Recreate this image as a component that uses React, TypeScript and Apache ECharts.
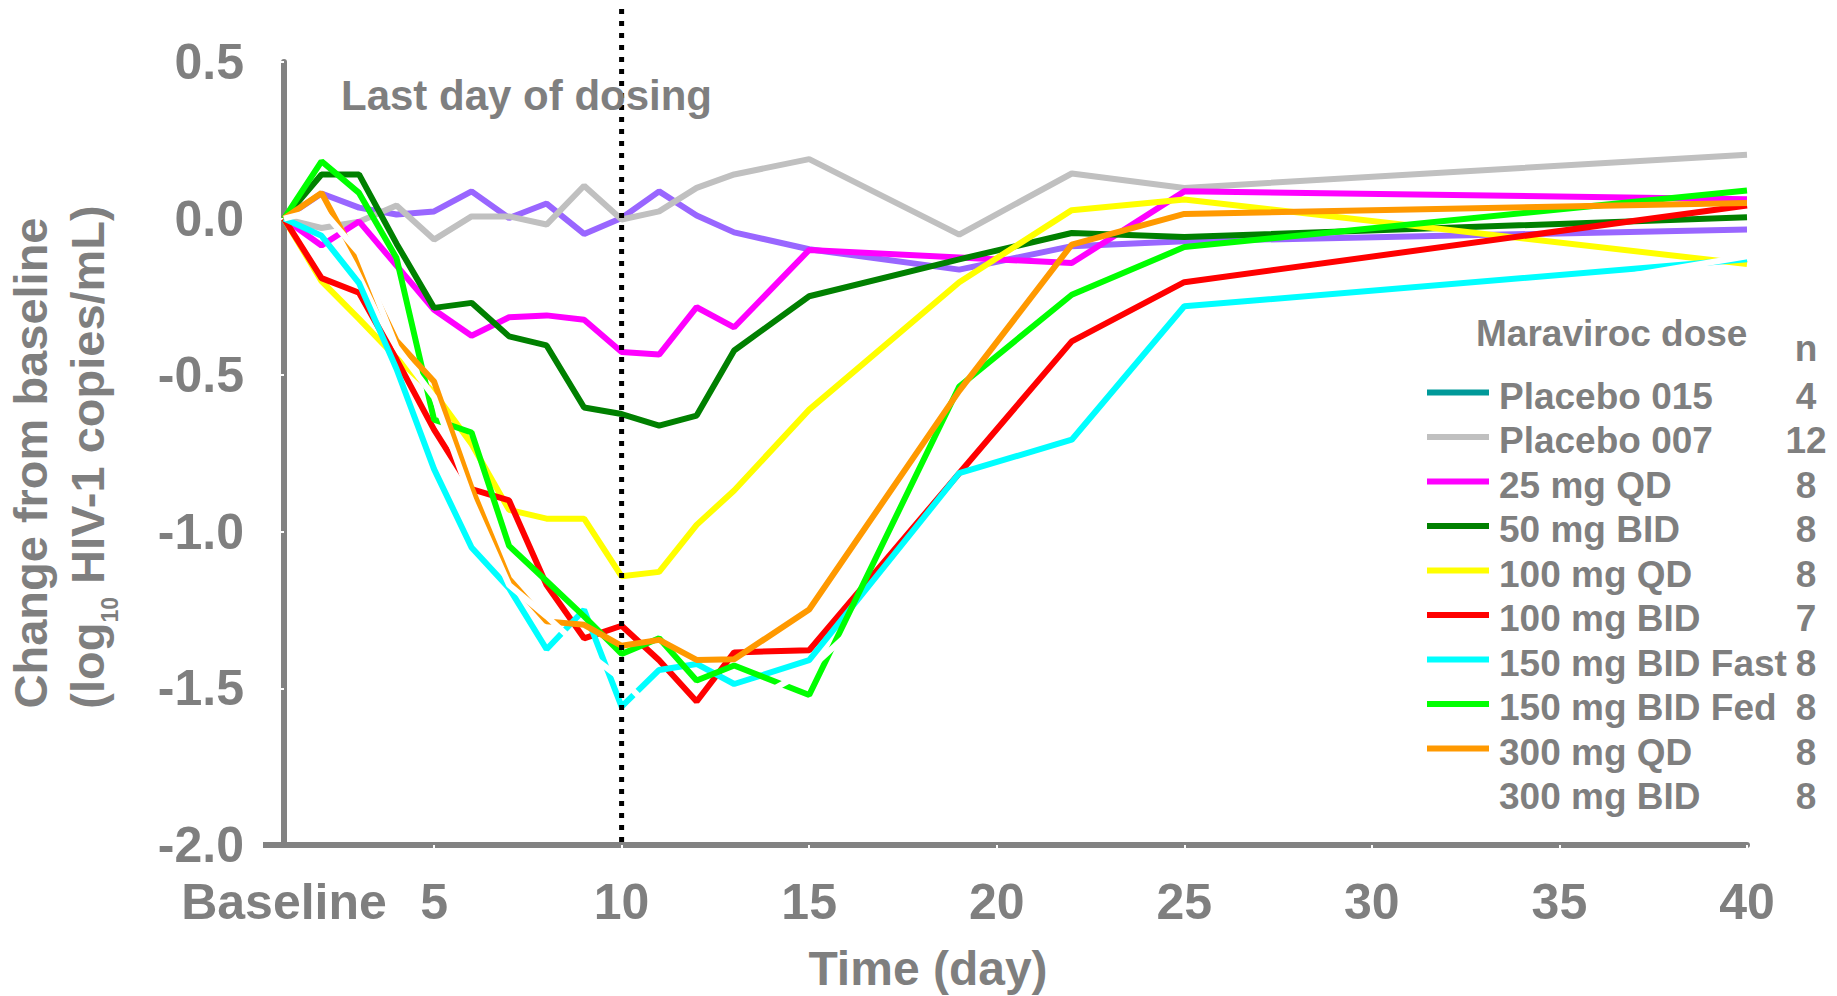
import React, { useEffect, useRef } from "react";
import * as echarts from "echarts";

// ---- data ----
const days = [1, 2, 3, 4, 5, 6, 7, 8, 9, 10, 11, 12, 13, 15, 19, 22, 25, 40];

const placebo015 = [0, 0.08, 0.035, 0.013, 0.023, 0.087, 0.002, 0.048, -0.049, 0.002, 0.087, 0.01, -0.044, -0.098, -0.163, -0.088, -0.072, -0.035];
const placebo007 = [0, -0.03, -0.01, 0.042, -0.067, 0.007, 0.007, -0.019, 0.105, -0.003, 0.023, 0.098, 0.141, 0.19, -0.051, 0.144, 0.098, 0.204];
const mg25QD = [0, -0.086, -0.009, -0.15, -0.291, -0.374, -0.315, -0.309, -0.323, -0.426, -0.434, -0.283, -0.347, -0.1, -0.124, -0.142, 0.087, 0.062];
const mg50BID = [0, 0.141, 0.141, -0.08, -0.285, -0.269, -0.376, -0.405, -0.603, -0.624, -0.661, -0.629, -0.421, -0.248, -0.13, -0.046, -0.059, 0.004];
const mg100QD = [0, -0.2, -0.32, -0.445, -0.555, -0.72, -0.93, -0.958, -0.958, -1.142, -1.128, -0.978, -0.868, -0.61, -0.203, 0.027, 0.061, -0.145];
const mg100BID = [0, -0.19, -0.237, -0.45, -0.674, -0.864, -0.9, -1.17, -1.34, -1.3, -1.41, -1.542, -1.385, -1.378, -0.813, -0.392, -0.203, 0.042];
const mg150Fast = [0, -0.055, -0.206, -0.48, -0.8, -1.05, -1.18, -1.375, -1.249, -1.558, -1.441, -1.422, -1.486, -1.41, -0.813, -0.706, -0.28, -0.13];
const mg150Fed = [0, 0.183, 0.082, -0.126, -0.642, -0.683, -1.045, -1.157, -1.27, -1.39, -1.34, -1.475, -1.427, -1.521, -0.536, -0.243, -0.091, 0.09];
const mg300QD = [0, 0.082, -0.14, -0.39, -0.52, -0.86, -1.151, -1.286, -1.297, -1.364, -1.345, -1.409, -1.407, -1.248, -0.55, -0.083, 0.015, 0.05];
const mg300BID = [0, 0.03, -0.11, -0.41, -0.57, -0.9, -1.17, -1.27, -1.38, -1.47, -1.59, -1.6, -1.57, -1.44, -1.0, -0.74, -0.42, -0.12];

const seriesValues = [placebo015, placebo007, mg25QD, mg50BID, mg100QD, mg100BID, mg150Fast, mg150Fed, mg300QD, mg300BID];
const seriesNames = ["Placebo 015", "Placebo 007", "25 mg QD", "50 mg BID", "100 mg QD", "100 mg BID", "150 mg BID Fast", "150 mg BID Fed", "300 mg QD", "300 mg BID"];
const lineColors = ["#9966FF", "#C0C0C0", "#FF00FF", "#008000", "#FFFF00", "#FF0000", "#00FFFF", "#00FF00", "#FF9900", "#FFFFFF"];

const legendTitle = "Maraviroc dose";
const legendNHeader = "n";
const legendLabels = ["Placebo 015", "Placebo 007", "25 mg QD", "50 mg BID", "100 mg QD", "100 mg BID", "150 mg BID Fast", "150 mg BID Fed", "300 mg QD", "300 mg BID"];
const legendN = ["4", "12", "8", "8", "8", "7", "8", "8", "8", "8"];
const legendSwatchColors = ["#009999", "#C0C0C0", "#FF00FF", "#008000", "#FFFF00", "#FF0000", "#00FFFF", "#00FF00", "#FF9900", "#FFFFFF"];

const xLabelValues = [1, 5, 10, 15, 20, 25, 30, 35, 40];
const xTickValues = [5, 10, 15, 20, 25, 30, 35, 40];
const baselineLabel = "Baseline";
const lastDosingDay = 10;
const lastDosingText = "Last day of dosing";
const xTitle = "Time (day)";
const yTitle1 = "Change from baseline";

const FONT = '"Liberation Sans", Arial, Helvetica, sans-serif';
const GRAY = "#7f7f7f";
const AXIS_GRAY = "#828282";

export default function App() {
  const ref = useRef<HTMLDivElement>(null);

  useEffect(() => {
    document.body.style.margin = "0";
    const chart = echarts.init(ref.current as HTMLDivElement, undefined, { renderer: "svg" });

    const option: any = {
      animation: false,
      backgroundColor: "#ffffff",
      grid: { left: 284, right: 90, top: 62, bottom: 151, containLabel: false, outerBoundsMode: "none" },
      xAxis: {
        type: "value",
        min: 1,
        max: 40,
        axisLine: { show: true, onZero: false, lineStyle: { color: AXIS_GRAY, width: 6 } },
        axisTick: { show: true, customValues: xTickValues, length: 4, lineStyle: { color: "#ffffff", width: 2 } },
        axisLabel: {
          customValues: xLabelValues,
          showMinLabel: true,
          showMaxLabel: true,
          formatter: (v: number) => (v === 1 ? baselineLabel : String(v)),
          color: GRAY,
          fontSize: 50,
          fontWeight: "bold",
          fontFamily: FONT,
          margin: 32,
        },
        splitLine: { show: false },
      },
      yAxis: {
        type: "value",
        min: -2,
        max: 0.5,
        interval: 0.5,
        axisLine: { show: true, onZero: false, lineStyle: { color: AXIS_GRAY, width: 6 } },
        axisTick: { show: true, length: 4, lineStyle: { color: "#ffffff", width: 2 } },
        axisLabel: {
          formatter: (v: number) => v.toFixed(1),
          color: GRAY,
          fontSize: 50,
          fontWeight: "bold",
          fontFamily: FONT,
          margin: 40,
        },
        splitLine: { show: false },
      },
      series: seriesValues.map((vals, i) => ({
        name: seriesNames[i],
        type: "line",
        data: days.map((d, j) => [d, vals[j]]),
        showSymbol: false,
        symbol: "none",
        silent: true,
        lineStyle: { color: lineColors[i], width: 6 },
        itemStyle: { color: lineColors[i] },
        z: 2,
      })),
    };
    chart.setOption(option);

    const [x10] = chart.convertToPixel({ gridIndex: 0 }, [lastDosingDay, 0]) as number[];
    const [x1, yBottom] = chart.convertToPixel({ gridIndex: 0 }, [1, -2]) as number[];

    const graphics: any[] = [];
    // x-axis stub extending left of the y axis
    graphics.push({
      type: "line",
      z: 50,
      shape: { x1: x1 - 21, y1: yBottom, x2: x1 + 3, y2: yBottom },
      style: { stroke: AXIS_GRAY, lineWidth: 6 },
    });
    // dotted "last day of dosing" line
    graphics.push({
      type: "line",
      z: 100,
      shape: { x1: x10, y1: 9, x2: x10, y2: yBottom },
      style: { stroke: "#000000", lineWidth: 5, lineDash: [5, 7] },
    });
    graphics.push({
      type: "text",
      z: 110,
      x: 341,
      y: 95,
      style: { text: lastDosingText, fill: GRAY, fontSize: 42, fontWeight: "bold", fontFamily: FONT, align: "left", verticalAlign: "middle" },
    });
    // x-axis title
    graphics.push({
      type: "text",
      z: 110,
      x: 928,
      y: 968,
      style: { text: xTitle, fill: GRAY, fontSize: 48, fontWeight: "bold", fontFamily: FONT, align: "center", verticalAlign: "middle" },
    });
    // y-axis title
    graphics.push({
      type: "text",
      z: 110,
      x: 30,
      y: 463,
      rotation: Math.PI / 2,
      style: { text: yTitle1, fill: GRAY, fontSize: 47, fontWeight: "bold", fontFamily: FONT, align: "center", verticalAlign: "middle" },
    });
    graphics.push({
      type: "text",
      z: 110,
      x: 110,
      y: 457,
      rotation: Math.PI / 2,
      style: {
        text: "{m|(log}{s|10}{m| HIV-1 copies/mL)}",
        fill: GRAY,
        fontSize: 47,
        fontWeight: "bold",
        fontFamily: FONT,
        align: "center",
        verticalAlign: "middle",
        rich: {
          m: { fill: GRAY, fontSize: 47, fontWeight: "bold", fontFamily: FONT, lineHeight: 47, verticalAlign: "top" },
          s: { fill: GRAY, fontSize: 23, fontWeight: "bold", fontFamily: FONT, lineHeight: 92, verticalAlign: "middle" },
        },
      },
    });
    // legend
    graphics.push({
      type: "text",
      z: 110,
      x: 1476,
      y: 333,
      style: { text: legendTitle, fill: GRAY, fontSize: 37, fontWeight: "bold", fontFamily: FONT, align: "left", verticalAlign: "middle" },
    });
    graphics.push({
      type: "text",
      z: 110,
      x: 1806,
      y: 348,
      style: { text: legendNHeader, fill: GRAY, fontSize: 37, fontWeight: "bold", fontFamily: FONT, align: "center", verticalAlign: "middle" },
    });
    legendLabels.forEach((lab, i) => {
      const cy = 396 + i * 44.5;
      graphics.push({
        type: "line",
        z: 110,
        shape: { x1: 1427, y1: cy - 3.5, x2: 1489, y2: cy - 3.5 },
        style: { stroke: legendSwatchColors[i], lineWidth: 6 },
      });
      graphics.push({
        type: "text",
        z: 110,
        x: 1499,
        y: cy,
        style: { text: lab, fill: GRAY, fontSize: 37, fontWeight: "bold", fontFamily: FONT, align: "left", verticalAlign: "middle" },
      });
      graphics.push({
        type: "text",
        z: 110,
        x: 1806,
        y: cy,
        style: { text: legendN[i], fill: GRAY, fontSize: 37, fontWeight: "bold", fontFamily: FONT, align: "center", verticalAlign: "middle" },
      });
    });

    chart.setOption({ graphic: graphics });

    return () => {
      chart.dispose();
    };
  }, []);

  return (
    <div
      ref={ref}
      style={{ position: "fixed", left: 0, top: 0, width: 1837, height: 996, background: "#fff" }}
    />
  );
}
